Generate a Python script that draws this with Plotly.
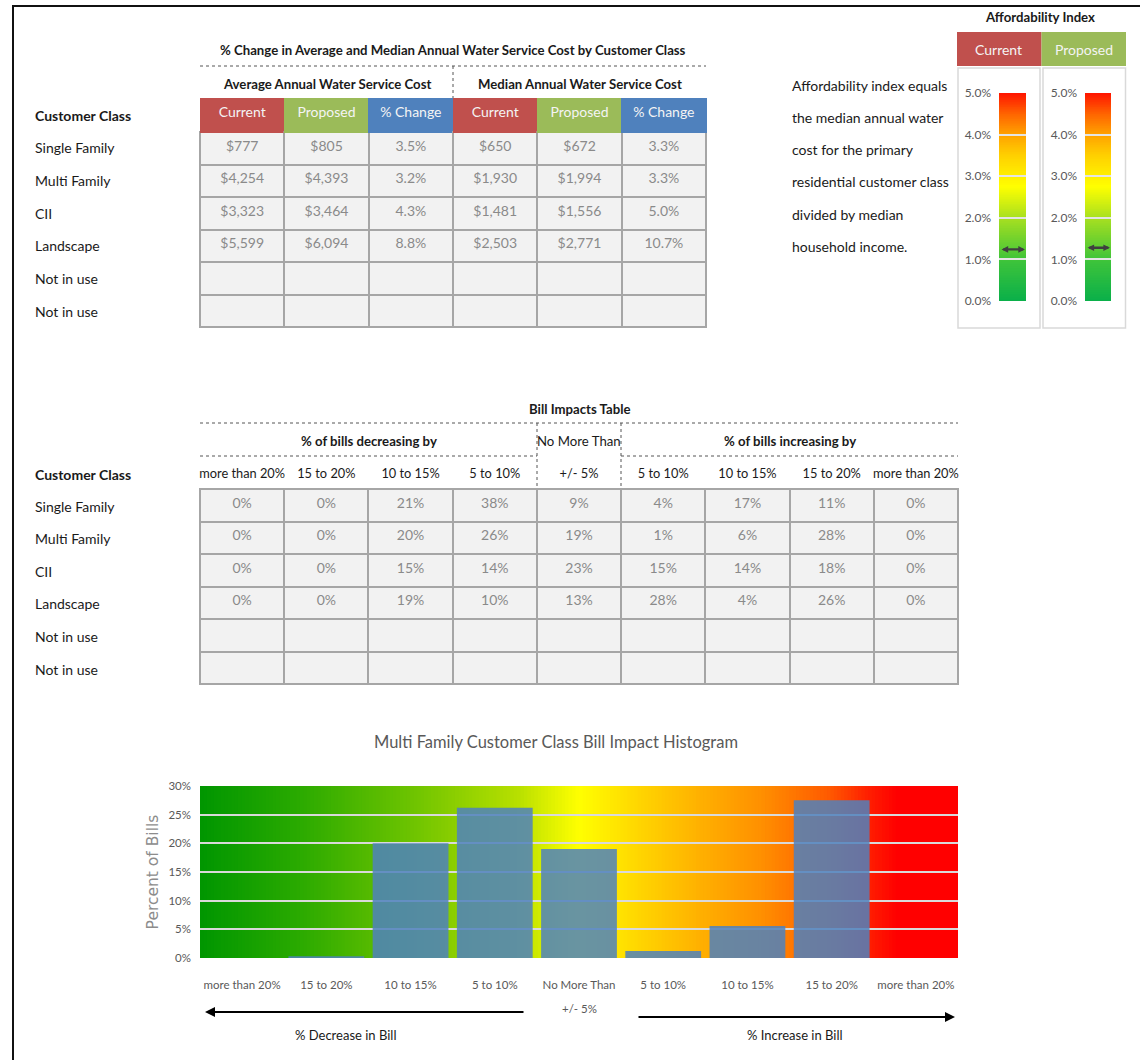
import plotly.graph_objects as go
from plotly.colors import sample_colorscale

W, H = 1140, 1060
def px(x): return x / W
def py(y): return 1 - y / H

FONT = "Lato, Liberation Sans Narrow, sans-serif"

# ---------------- data ----------------
customer_classes = ["Single Family", "Multi Family", "CII", "Landscape", "Not in use", "Not in use"]
avg_current = [777, 4254, 3323, 5599, None, None]
avg_proposed = [805, 4393, 3464, 6094, None, None]
avg_change = [3.5, 3.2, 4.3, 8.8, None, None]
med_current = [650, 1930, 1481, 2503, None, None]
med_proposed = [672, 1994, 1556, 2771, None, None]
med_change = [3.3, 3.3, 5.0, 10.7, None, None]
cost_headers = ["Current", "Proposed", "% Change", "Current", "Proposed", "% Change"]

bill_columns = ["more than 20%", "15 to 20%", "10 to 15%", "5 to 10%", "+/- 5%",
                "5 to 10%", "10 to 15%", "15 to 20%", "more than 20%"]
bill_single = [0, 0, 21, 38, 9, 4, 17, 11, 0]
bill_multi = [0, 0, 20, 26, 19, 1, 6, 28, 0]
bill_cii = [0, 0, 15, 14, 23, 15, 14, 18, 0]
bill_landscape = [0, 0, 19, 10, 13, 28, 4, 26, 0]

hist_labels = ["more than 20%", "15 to 20%", "10 to 15%", "5 to 10%", "No More Than",
               "5 to 10%", "10 to 15%", "15 to 20%", "more than 20%"]
hist_values = [0, 0.3, 20.0, 26.2, 19.0, 1.2, 5.6, 27.5, 0]
hist_ticks = [0, 5, 10, 15, 20, 25, 30]

afford_labels = ["Current", "Proposed"]
afford_values = [1.24, 1.28]
afford_ticks = [0, 1, 2, 3, 4, 5]

afford_note = ["Affordability index equals", "the median annual water", "cost for the primary",
               "residential customer class", "divided by median", "household income."]

# ---------------- helpers ----------------
NB = "\u00a0"
def nb(s):
    return s.replace(" ", NB)

def money(v):
    return "" if v is None else f"${v:,}"

def pct1(v):
    return "" if v is None else f"{v:.1f}%"

def pct0(v):
    return "" if v is None else f"{v}%"

RED, GREEN, BLUE = "#C0504D", "#9BBB59", "#4F81BD"
BODY = 14
HEAD = 13.2
annotations = []
shapes = []

def txt(x, y, s, size=BODY, color="#1a1a1a", anchor="center", family=FONT):
    annotations.append(dict(x=px(x), y=py(y), xref="paper", yref="paper", text=s,
                            showarrow=False, xanchor=anchor, yanchor="middle",
                            font=dict(family=family, size=size, color=color)))

def dotted(x0, y0, x1, y1):
    shapes.append(dict(type="line", xref="paper", yref="paper", x0=px(x0), y0=py(y0),
                       x1=px(x1), y1=py(y1), line=dict(color="#555555", width=1, dash="dot"),
                       layer="above"))

fig = go.Figure()

# ---------------- Top table ----------------
cost_cols = [[money(v) for v in avg_current], [money(v) for v in avg_proposed],
             [pct1(v) for v in avg_change], [money(v) for v in med_current],
             [money(v) for v in med_proposed], [pct1(v) for v in med_change]]
hdr_colors = [RED, GREEN, BLUE, RED, GREEN, BLUE]
fig.add_trace(go.Table(
    domain=dict(x=[px(200), px(706)], y=[py(345), py(98)]),
    header=dict(values=[nb(h) for h in cost_headers], fill_color=hdr_colors,
                line=dict(color=hdr_colors, width=1), height=34, align="center",
                font=dict(family=FONT, size=BODY, color="#F4F4F4")),
    cells=dict(values=cost_cols, fill_color="#F2F2F2", line=dict(color="#A6A6A6", width=2),
               height=32.5, align="center", font=dict(family=FONT, size=BODY, color="#8A8A8A")),
))

txt(453, 50, "<b>% Change in Average and Median Annual Water Service Cost by Customer Class</b>", HEAD)
txt(327, 84, "<b>Average Annual Water Service Cost</b>", HEAD)
txt(580, 84, "<b>Median Annual Water Service Cost</b>", HEAD)
dotted(200, 66, 706, 66)
dotted(453, 66, 453, 98)
txt(33, 115, "<b>Customer Class</b>", BODY, anchor="left")
for i, c in enumerate(customer_classes):
    txt(33, 148 + i * 32.6, c, BODY, anchor="left")

# ---------------- Affordability ----------------
txt(1040, 17, "<b>Affordability Index</b>", HEAD)
for i, (lab, col) in enumerate(zip(afford_labels, [RED, GREEN])):
    x0 = 957 + i * 84.5
    shapes.append(dict(type="rect", xref="paper", yref="paper", x0=px(x0), x1=px(x0 + 84.5),
                       y0=py(66), y1=py(32), fillcolor=col, line=dict(width=0), layer="below"))
    txt(x0 + 42, 50, lab, BODY, color="#F4F4F4")
    shapes.append(dict(type="rect", xref="paper", yref="paper", x0=px(958 + i * 85), x1=px(1040 + i * 85.5),
                       y0=py(328), y1=py(68), fillcolor="rgba(0,0,0,0)",
                       line=dict(color="#D9D9D9", width=1.5), layer="below"))
for i, line in enumerate(afford_note):
    txt(790, 85 + i * 32.3, line, BODY, anchor="left")

gauge_scale = [[0, "#0AB04A"], [0.2, "#40C43A"], [0.4, "#A8E020"], [0.55, "#FFFF00"],
               [0.7, "#FFD000"], [0.8, "#FFA200"], [0.9, "#FF6400"], [1, "#FF1400"]]
NG = 120
gcols = sample_colorscale(gauge_scale, [(k + 0.5) / NG for k in range(NG)])
for g, ax in enumerate(["x2", "x3"]):
    ay = "y2" if g == 0 else "y3"
    for k in range(NG):
        shapes.append(dict(type="rect", xref=ax + " domain", yref=ay + " domain",
                           x0=0, x1=1, y0=k / NG, y1=min(1, (k + 1.6) / NG),
                           fillcolor=gcols[k], line=dict(width=0), layer="below"))
    annotations.append(dict(x=0.96, y=afford_values[g], xref=ax, yref=ay,
                            ax=0.04, ay=afford_values[g], axref=ax, ayref=ay,
                            text="", showarrow=True, arrowhead=2, arrowside="end+start",
                            arrowwidth=2.4, arrowsize=0.55, arrowcolor="#3F3F3F"))
    fig.add_trace(go.Scatter(x=[0.5], y=[afford_values[g]], xaxis=ax, yaxis=ay,
                             mode="markers", marker=dict(opacity=0), hoverinfo="skip",
                             showlegend=False))

# ---------------- Bill impacts table ----------------
bill_rows = [bill_single, bill_multi, bill_cii, bill_landscape, None, None]
bill_cols = [[pct0(r[j]) if r is not None else "" for r in bill_rows] for j in range(len(bill_columns))]
fig.add_trace(go.Table(
    domain=dict(x=[px(200), px(958)], y=[py(705), py(460)]),
    header=dict(values=[nb(c) for c in bill_columns], fill_color="rgba(255,255,255,0)",
                line=dict(color="rgba(255,255,255,0)", width=0), height=29, align="center",
                font=dict(family=FONT, size=12.8, color="#1a1a1a")),
    cells=dict(values=bill_cols, fill_color="#F2F2F2", line=dict(color="#A6A6A6", width=2),
               height=32.5, align="center", font=dict(family=FONT, size=BODY, color="#8A8A8A")),
))
txt(580, 409, "<b>Bill Impacts Table</b>", HEAD)
txt(369, 441, "<b>% of bills decreasing by</b>", HEAD)
txt(579, 441, "No More Than", HEAD)
txt(790, 441, "<b>% of bills increasing by</b>", HEAD)
dotted(200, 423, 958, 423)
dotted(200, 456, 537, 456)
dotted(621, 456, 958, 456)
dotted(537, 423, 537, 489)
dotted(621, 423, 621, 489)
txt(33, 474, "<b>Customer Class</b>", BODY, anchor="left")
for i, c in enumerate(customer_classes):
    txt(33, 506 + i * 32.6, c, BODY, anchor="left")

# ---------------- Histogram ----------------
hist_scale = [[0, "#009600"], [0.13, "#2AAA00"], [0.285, "#70C400"], [0.42, "#B8E000"],
              [0.5, "#FFFF00"], [0.58, "#FFD500"], [0.66, "#FFB000"], [0.74, "#FF9000"],
              [0.83, "#FF5A00"], [0.88, "#FF2000"], [0.92, "#FF0000"], [1, "#FF0000"]]
NH = 220
hcols = sample_colorscale(hist_scale, [(k + 0.5) / NH for k in range(NH)])
for k in range(NH):
    shapes.append(dict(type="rect", xref="x domain", yref="y domain",
                       x0=k / NH, x1=min(1, (k + 1.6) / NH), y0=0, y1=1,
                       fillcolor=hcols[k], line=dict(width=0), layer="below"))

fig.add_trace(go.Bar(x=list(range(len(hist_labels))), y=hist_values,
                     marker=dict(color="rgba(79,129,189,0.85)", line=dict(width=0)),
                     width=0.9, hoverinfo="skip", showlegend=False))

txt(556, 742, "Multi Family Customer Class Bill Impact Histogram", 16.5, color="#595959")
annotations.append(dict(x=4, y=py(1008), xref="x", yref="paper", text="+/- 5%", showarrow=False,
                        xanchor="center", yanchor="middle",
                        font=dict(family=FONT, size=11.5, color="#595959")))
annotations.append(dict(x=px(205), y=py(1012), xref="paper", yref="paper", text="", showarrow=True,
                        ax=320, ay=0, arrowhead=2, arrowsize=1, arrowwidth=2, arrowcolor="#000000"))
annotations.append(dict(x=px(955), y=py(1017), xref="paper", yref="paper", text="", showarrow=True,
                        ax=-318, ay=0, arrowhead=2, arrowsize=1, arrowwidth=2, arrowcolor="#000000"))
txt(345, 1035, "% Decrease in Bill", 13)
txt(795, 1035, "% Increase in Bill", 13)

# frame
shapes.append(dict(type="line", xref="paper", yref="paper", x0=px(13), x1=px(13), y0=0, y1=py(5),
                   line=dict(color="#111111", width=2)))
shapes.append(dict(type="line", xref="paper", yref="paper", x0=px(12), x1=1, y0=py(6), y1=py(6),
                   line=dict(color="#111111", width=2)))

gauge_ticktext = [f"{v:.1f}%" for v in afford_ticks]
gauge_y = dict(range=[0, 5], tickvals=afford_ticks, ticktext=gauge_ticktext, showgrid=True,
               gridcolor="#E4E4E4", gridwidth=2, zeroline=False, showline=False,
               tickfont=dict(family=FONT, size=12, color="#595959"), ticklabelstandoff=7,
               fixedrange=True, automargin=False)
gauge_x = dict(range=[0, 1], visible=False, fixedrange=True, automargin=False)

fig.update_layout(
    width=W, height=H, margin=dict(l=0, r=0, t=0, b=0, autoexpand=False),
    paper_bgcolor="white", plot_bgcolor="rgba(0,0,0,0)", showlegend=False,
    font=dict(family=FONT),
    xaxis=dict(domain=[px(200), px(958)], range=[-0.5, 8.5],
               tickvals=list(range(len(hist_labels))), ticktext=hist_labels,
               showgrid=False, zeroline=False, showline=False, ticks="",
               tickfont=dict(family=FONT, size=11.5, color="#595959"), ticklabelstandoff=18,
               fixedrange=True, automargin=False),
    yaxis=dict(domain=[py(958), py(786)], range=[0, 30], tickvals=hist_ticks,
               ticktext=[f"{v}%" for v in hist_ticks], showgrid=True, gridcolor="#D9D9D9",
               gridwidth=2, zeroline=False, showline=False,
               tickfont=dict(family=FONT, size=11.5, color="#595959"), ticklabelstandoff=8,
               title=dict(text="Percent of Bills", standoff=6,
                          font=dict(family="DejaVu Sans", size=15.5, color="#8C8C8C")),
               fixedrange=True, automargin=False),
    xaxis2=dict(domain=[px(999), px(1026)], anchor="y2", **gauge_x),
    yaxis2=dict(domain=[py(301), py(93)], anchor="x2", **gauge_y),
    xaxis3=dict(domain=[px(1085), px(1111)], anchor="y3", **gauge_x),
    yaxis3=dict(domain=[py(301), py(93)], anchor="x3", **gauge_y),
    annotations=annotations, shapes=shapes,
)

fig.write_html("out.html")
